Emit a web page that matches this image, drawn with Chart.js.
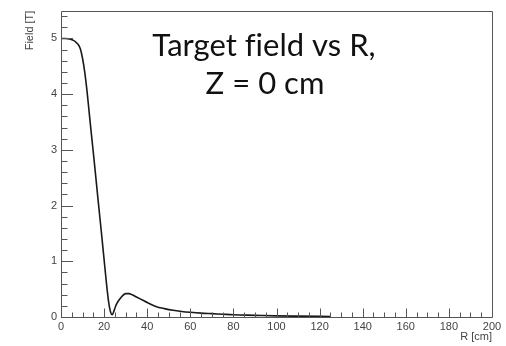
<!DOCTYPE html>
<html><head><meta charset="utf-8">
<script src="https://cdn.jsdelivr.net/npm/chart.js@4"></script>
<style>html,body{margin:0;padding:0;background:#fff}#wrap{width:506px;height:346px}</style>
</head><body><div id="wrap"><canvas id="c" width="506" height="346"></canvas></div>
<script>
const radius = [0, 2, 4, 6, 7, 8, 9, 10, 11, 12, 13, 14, 15, 16, 17, 18, 19, 20, 21, 22, 23, 23.8, 24.5, 25.2, 26, 27.2, 28.5, 30, 31.5, 33, 35, 38, 40, 44, 48, 52, 56, 60, 65, 70, 75, 80, 90, 100, 110, 125];
const field  = [5.0, 5.0, 4.99, 4.96, 4.93, 4.89, 4.81, 4.64, 4.40, 4.08, 3.70, 3.32, 2.95, 2.57, 2.18, 1.80, 1.42, 1.03, 0.64, 0.30, 0.09, 0.04, 0.10, 0.18, 0.25, 0.32, 0.38, 0.42, 0.42, 0.40, 0.36, 0.30, 0.26, 0.19, 0.15, 0.12, 0.10, 0.085, 0.07, 0.06, 0.05, 0.04, 0.03, 0.02, 0.015, 0.01];
const xTicks = [0, 20, 40, 60, 80, 100, 120, 140, 160, 180, 200];
const yTicks = [0, 1, 2, 3, 4, 5];
const titleLines = ["Target field vs R,", "Z = 0 cm"];
const xTitle = "R [cm]";
const yTitle = "Field [T]";

const axisColor = '#555';
const frame = {
  id: 'frame',
  afterDraw(chart) {
    const {ctx, chartArea: a, scales: {x, y}} = chart;
    ctx.save();
    ctx.strokeStyle = axisColor;
    ctx.lineWidth = 1;
    ctx.beginPath();
    ctx.rect(Math.round(a.left) + 0.5, Math.round(a.top) + 0.5, Math.round(a.right - a.left), Math.round(a.bottom - a.top));
    ctx.stroke();
    ctx.beginPath();
    for (let v = 0; v <= 200; v += 5) {
      const px = Math.round(x.getPixelForValue(v)) + 0.5;
      const len = (v % 20 === 0) ? 8.5 : 4.5;
      ctx.moveTo(px, a.bottom); ctx.lineTo(px, a.bottom - len);
    }
    for (let i = 0; i <= 27; i++) {
      const v = i * 0.2;
      const py = Math.round(y.getPixelForValue(v)) + 0.5;
      const len = (i % 5 === 0) ? 12 : 6.5;
      ctx.moveTo(a.left, py); ctx.lineTo(a.left + len, py);
    }
    ctx.stroke();
    ctx.fillStyle = '#111';
    ctx.textAlign = 'center';
    ctx.textBaseline = 'alphabetic';
    ctx.font = '31px Lato';
    if ('letterSpacing' in ctx) ctx.letterSpacing = '0.01px';
    ctx.fillText(titleLines[0], 264, 56);
    ctx.fillText(titleLines[1], 265, 94);
    ctx.restore();
  }
};

new Chart(document.getElementById('c'), {
  type: 'line',
  data: {
    datasets: [{
      data: radius.map((r, i) => ({x: r, y: field[i]})),
      borderColor: '#1a1a1a',
      borderWidth: 1.6,
      pointRadius: 0,
      fill: false,
      cubicInterpolationMode: 'monotone'
    }]
  },
  options: {
    responsive: false,
    animation: false,
    layout: {padding: {top: 8, right: 14, left: 0, bottom: 0}},
    plugins: {legend: {display: false}, tooltip: {enabled: false}},
    scales: {
      x: {
        type: 'linear', min: 0, max: 200,
        afterFit(s) { s.height = 29; },
        afterBuildTicks(s) { s.ticks = xTicks.map(v => ({value: v})); },
        grid: {display: false, drawTicks: false},
        border: {display: false},
        ticks: {color: '#444', font: {family: 'Liberation Sans', size: 11}, padding: 3, maxRotation: 0},
        title: {display: true, text: xTitle, align: 'end', color: '#444', font: {family: 'Liberation Sans', size: 11}, padding: {top: 0, bottom: 2}}
      },
      y: {
        type: 'linear', min: 0, max: 5.5,
        afterFit(s) { s.width = 61; },
        afterBuildTicks(s) { s.ticks = yTicks.map(v => ({value: v})); },
        grid: {display: false, drawTicks: false},
        border: {display: false},
        ticks: {color: '#444', font: {family: 'Liberation Sans', size: 11}, padding: 4},
        title: {display: true, text: yTitle, align: 'end', color: '#444', font: {family: 'Liberation Sans', size: 11}, padding: {top: 23, bottom: 0}}
      }
    }
  },
  plugins: [frame]
});
</script></body></html>
